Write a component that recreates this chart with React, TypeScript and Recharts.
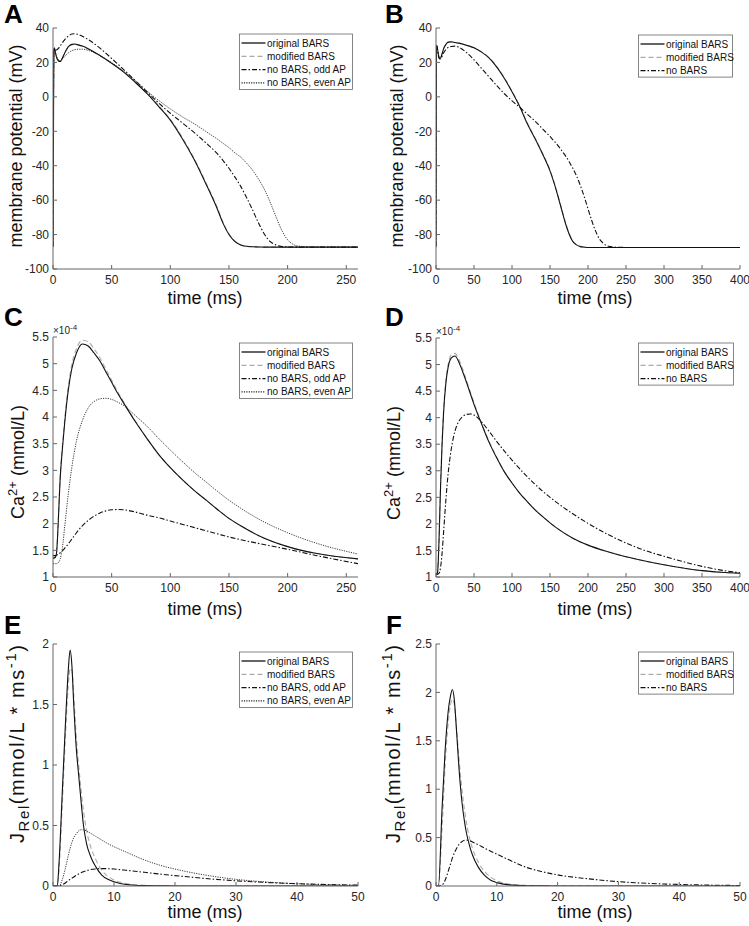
import { LineChart, Line, XAxis, YAxis } from 'recharts';

// ---- panel A: membrane potential, 260 ms window (mV) ----
const tA = [0, 0.7, 1.2, 2, 3, 4, 5, 6, 8, 10, 13, 16, 18, 20, 25, 30, 40, 50, 60, 70, 80, 90, 100, 110, 120, 130, 140, 145, 150, 155, 160, 165, 170, 175, 180, 185, 190, 195, 200, 205, 210, 220, 240, 260];
const aOriginal = [-87, 26, 28.5, 26, 23, 21.5, 20.7, 20.5, 22.5, 25.5, 29, 30.5, 30.7, 30.5, 29.5, 28, 24, 19.5, 14.5, 8.5, 2, -5.5, -13.5, -24, -36, -50, -65, -73.5, -80, -84, -86, -86.8, -87.1, -87.2, -87.3, -87.3, -87.3, -87.3, -87.3, -87.3, -87.3, -87.3, -87.3, -87.3];
const aModified = [-87, 26, 28.3, 25.8, 23, 21.6, 20.9, 20.8, 22.6, 25.4, 28.8, 30.2, 30.4, 30.2, 29.3, 27.8, 23.9, 19.5, 14.6, 8.7, 2.3, -5.1, -13, -23.4, -35.4, -49.3, -64.3, -73, -79.6, -83.8, -85.9, -86.8, -87.1, -87.2, -87.3, -87.3, -87.3, -87.3, -87.3, -87.3, -87.3, -87.3, -87.3, -87.3];
const aOddAP = [-87, 26, 28, 27.5, 27.3, 27.8, 28.5, 29.5, 31.5, 33.3, 35.3, 36.5, 36.7, 36.5, 35.2, 33.3, 28.3, 22.3, 16, 9.5, 3, -3.5, -9.5, -15, -20.5, -26.5, -33, -37, -41.5, -46.5, -52, -58.5, -65.5, -73, -79.5, -84, -86, -86.9, -87.2, -87.3, -87.3, -87.3, -87.3, -87.3];
const aEvenAP = [-87, 26, 28, 26, 23.5, 22, 21.2, 21, 22, 23.5, 25.5, 26.8, 27.3, 27.6, 27.7, 27, 24, 19.8, 15, 9.5, 3.5, -2, -7, -11.5, -15.5, -20, -24.5, -27, -29.5, -32.5, -35, -38.5, -42.5, -47.5, -53.5, -61, -69.5, -77.5, -83, -85.8, -86.8, -87.2, -87.3, -87.3];

// ---- panel B: membrane potential, 400 ms window (mV) ----
const tB = [0, 0.5, 1, 2, 3, 4, 5, 6, 8, 10, 13, 16, 20, 25, 30, 40, 50, 60, 70, 80, 90, 100, 110, 120, 130, 140, 150, 155, 160, 165, 170, 175, 180, 185, 190, 195, 200, 205, 210, 215, 220, 225, 230, 240, 260, 300, 350, 400];
const bOriginal = [-87, 25, 30, 28, 25, 23, 22.3, 22.5, 25, 28, 30.5, 31.8, 32, 31.6, 31.2, 30, 28.5, 26, 22.5, 17.3, 10.7, 3, -5.5, -15.5, -24, -33, -43, -49.5, -57, -65, -73, -79.5, -84, -86, -87, -87.3, -87.5, -87.5, -87.5, -87.5, -87.5, -87.5, -87.5, -87.5, -87.5, -87.5, -87.5, -87.5];
const bModified = [-87, 25, 29.8, 27.8, 25, 23.1, 22.5, 22.7, 25.1, 27.9, 30.3, 31.6, 31.8, 31.5, 31.1, 29.9, 28.5, 26.1, 22.7, 17.6, 11.1, 3.4, -5, -15, -23.5, -32.5, -42.5, -49, -56.5, -64.5, -72.5, -79.2, -83.8, -85.9, -87, -87.3, -87.5, -87.5, -87.5, -87.5, -87.5, -87.5, -87.5, -87.5, -87.5, -87.5, -87.5, -87.5];
const bNoBars = [-87, 25, 29.5, 27, 24, 22.5, 22, 22, 23.5, 25.5, 27.5, 28.7, 29.3, 29.5, 28.8, 25.8, 21.5, 16.5, 11.5, 6.5, 1.8, -2.3, -6, -10, -14, -18.5, -23, -25.5, -28, -31, -34, -37.5, -41.5, -46, -51.5, -58, -65, -72, -78, -82.5, -85, -86.5, -87, -87.4, -87.5, -87.5, -87.5, -87.5];

// ---- panel C: Ca2+, 260 ms window (x 1e-4 mmol/L) ----
const tC = [0, 2, 3, 4, 5, 6, 8, 10, 13, 16, 20, 25, 30, 35, 40, 45, 50, 55, 60, 70, 80, 90, 100, 110, 120, 130, 140, 150, 160, 175, 200, 225, 260];
const cOriginal = [1.35, 1.37, 1.45, 1.8, 2.3, 2.8, 3.4, 3.9, 4.5, 4.9, 5.2, 5.37, 5.33, 5.2, 5.05, 4.85, 4.65, 4.45, 4.27, 3.92, 3.6, 3.3, 3.05, 2.83, 2.63, 2.45, 2.27, 2.1, 1.96, 1.78, 1.57, 1.44, 1.34];
const cModified = [1.35, 1.37, 1.45, 1.8, 2.3, 2.82, 3.45, 3.95, 4.56, 4.98, 5.28, 5.44, 5.41, 5.28, 5.11, 4.9, 4.69, 4.48, 4.29, 3.93, 3.6, 3.3, 3.05, 2.83, 2.63, 2.45, 2.27, 2.1, 1.96, 1.78, 1.57, 1.44, 1.34];
const cOddAP = [1.4, 1.4, 1.41, 1.42, 1.43, 1.45, 1.49, 1.54, 1.62, 1.71, 1.83, 1.96, 2.06, 2.14, 2.2, 2.24, 2.26, 2.265, 2.26, 2.22, 2.16, 2.11, 2.05, 1.99, 1.93, 1.87, 1.81, 1.75, 1.7, 1.63, 1.52, 1.4, 1.25];
const cEvenAP = [1.25, 1.25, 1.25, 1.26, 1.28, 1.33, 1.55, 1.95, 2.55, 3.05, 3.55, 3.93, 4.17, 4.29, 4.34, 4.35, 4.33, 4.28, 4.22, 4.03, 3.83, 3.6, 3.38, 3.17, 2.97, 2.79, 2.61, 2.44, 2.29, 2.09, 1.83, 1.63, 1.43];

// ---- panel D: Ca2+, 400 ms window (x 1e-4 mmol/L) ----
const tD = [0, 2, 3, 4, 5, 6, 8, 10, 13, 16, 20, 25, 30, 35, 40, 45, 50, 60, 70, 80, 90, 100, 110, 120, 130, 140, 150, 160, 180, 200, 225, 250, 275, 300, 325, 350, 375, 400];
const dOriginal = [1.05, 1.08, 1.3, 1.7, 2.2, 2.7, 3.5, 4.1, 4.65, 4.95, 5.12, 5.16, 5.05, 4.87, 4.67, 4.46, 4.25, 3.88, 3.53, 3.24, 2.98, 2.77, 2.58, 2.42, 2.27, 2.14, 2.02, 1.91, 1.73, 1.6, 1.48, 1.38, 1.3, 1.23, 1.17, 1.12, 1.09, 1.07];
const dModified = [1.05, 1.08, 1.3, 1.7, 2.2, 2.72, 3.54, 4.15, 4.7, 5.0, 5.18, 5.21, 5.1, 4.92, 4.71, 4.49, 4.28, 3.9, 3.55, 3.25, 2.98, 2.77, 2.58, 2.42, 2.27, 2.14, 2.02, 1.91, 1.73, 1.6, 1.48, 1.38, 1.3, 1.23, 1.17, 1.12, 1.09, 1.07];
const dNoBars = [1.05, 1.05, 1.06, 1.07, 1.1, 1.18, 1.45, 1.85, 2.45, 2.95, 3.4, 3.75, 3.93, 4.02, 4.06, 4.07, 4.05, 3.92, 3.74, 3.55, 3.37, 3.2, 3.04, 2.89, 2.75, 2.62, 2.5, 2.39, 2.19, 2.01, 1.81, 1.64, 1.5, 1.39, 1.29, 1.2, 1.13, 1.08];

// ---- panel E: J_Rel, first 50 ms ----
const tE = [0, 0.7, 1, 1.5, 2, 2.5, 2.8, 3.1, 3.4, 3.8, 4.2, 4.6, 5, 5.5, 6.2, 7, 8, 9, 10, 12, 15, 18, 20, 25, 30, 35, 40, 45, 50];
const eOriginal = [0, 0, 0.2, 0.75, 1.3, 1.78, 1.95, 1.82, 1.5, 1.15, 0.92, 0.7, 0.5, 0.35, 0.24, 0.16, 0.09, 0.055, 0.035, 0.012, 0.003, 0.001, 0, 0, 0, 0, 0, 0, 0];
const eModified = [0, 0, 0.15, 0.65, 1.2, 1.65, 1.8, 1.78, 1.58, 1.25, 1.0, 0.8, 0.62, 0.46, 0.32, 0.22, 0.13, 0.08, 0.05, 0.02, 0.006, 0.002, 0.001, 0, 0, 0, 0, 0, 0];
const eOddAP = [0, 0, 0.002, 0.01, 0.025, 0.045, 0.055, 0.065, 0.075, 0.088, 0.1, 0.11, 0.118, 0.127, 0.136, 0.141, 0.144, 0.143, 0.14, 0.13, 0.113, 0.096, 0.086, 0.062, 0.043, 0.029, 0.019, 0.012, 0.007];
const eEvenAP = [0, 0, 0, 0.05, 0.14, 0.25, 0.31, 0.36, 0.4, 0.43, 0.455, 0.465, 0.465, 0.455, 0.435, 0.41, 0.38, 0.35, 0.325, 0.28, 0.215, 0.165, 0.14, 0.09, 0.055, 0.033, 0.019, 0.01, 0.005];

// ---- panel F: J_Rel, first 50 ms ----
const tF = [0, 0.4, 1, 1.5, 2, 2.4, 2.7, 3, 3.4, 3.8, 4.3, 4.7, 5, 5.5, 6, 7, 8, 9, 10, 12, 15, 18, 20, 25, 30, 35, 40, 45, 50];
const fOriginal = [0, 0, 0.8, 1.4, 1.8, 1.97, 2.03, 1.93, 1.58, 1.2, 0.85, 0.66, 0.55, 0.42, 0.32, 0.19, 0.11, 0.06, 0.035, 0.012, 0.003, 0.001, 0, 0, 0, 0, 0, 0, 0];
const fModified = [0, 0, 0.6, 1.25, 1.68, 1.88, 1.93, 1.88, 1.62, 1.3, 0.98, 0.78, 0.66, 0.5, 0.39, 0.24, 0.15, 0.09, 0.055, 0.02, 0.006, 0.002, 0.001, 0, 0, 0, 0, 0, 0];
const fNoBars = [0, 0, 0.01, 0.06, 0.15, 0.23, 0.29, 0.34, 0.39, 0.43, 0.46, 0.472, 0.474, 0.468, 0.455, 0.425, 0.39, 0.36, 0.33, 0.27, 0.19, 0.14, 0.115, 0.075, 0.045, 0.027, 0.016, 0.009, 0.005];

// ticks
const ticksT260 = [0, 50, 100, 150, 200, 250];
const ticksT400 = [0, 50, 100, 150, 200, 250, 300, 350, 400];
const ticksT50 = [0, 10, 20, 30, 40, 50];
const ticksMV = [-100, -80, -60, -40, -20, 0, 20, 40];
const ticksCa = [1, 1.5, 2, 2.5, 3, 3.5, 4, 4.5, 5, 5.5];
const ticksJE = [0, 0.5, 1, 1.5, 2];
const ticksJF = [0, 0.5, 1, 1.5, 2, 2.5];

const FONT = 'Liberation Sans, Arial, Helvetica, sans-serif';

type LineStyle = { stroke: string; width: number; dash?: string };
const ORIG: LineStyle = { stroke: '#111', width: 1.1 };
const MOD: LineStyle = { stroke: '#aaa', width: 1.1, dash: '5 3' };
const DASHDOT: LineStyle = { stroke: '#111', width: 1.1, dash: '5 2 1.5 2' };
const DOTTED: LineStyle = { stroke: '#222', width: 0.9, dash: '1.2 1.2' };

const zip = (t: number[], v: number[]) => t.map((x, i) => ({ t: x, v: v[i] }));

type Series = { name: string; data: { t: number; v: number }[]; style: LineStyle };

const tickStyle = { fill: '#262626', fontSize: 12, fontFamily: FONT };

function Panel({ box, xMax, xTicks, yDomain, yTicks, series }: {
  box: number[]; xMax: number; xTicks: number[]; yDomain: number[]; yTicks: number[]; series: Series[];
}) {
  const [x0, y0, x1, y1] = box;
  const W = x1 - x0 + 60;
  const H = y1 - y0 + 40;
  return (
    <div style={{ position: 'absolute', left: x0 - 50, top: y0 - 10 }}>
      <LineChart width={W} height={H} margin={{ top: 10, right: 10, bottom: 0, left: 0 }}>
        <XAxis xAxisId="b" type="number" dataKey="t" domain={[0, xMax]} ticks={xTicks} allowDataOverflow
               interval={0} height={30} tickSize={-4} tickMargin={10} stroke="#666" tick={tickStyle} />
        <XAxis xAxisId="t" orientation="top" type="number" domain={[0, xMax]} ticks={xTicks} allowDataOverflow
               interval={0} height={0} tickSize={-4} stroke="#666" tick={false} />
        <YAxis yAxisId="l" type="number" domain={yDomain} ticks={yTicks} allowDataOverflow
               interval={0} width={50} tickSize={-4} tickMargin={8} stroke="#666" tick={tickStyle} />
        <YAxis yAxisId="r" orientation="right" type="number" domain={yDomain} ticks={yTicks} allowDataOverflow
               interval={0} width={0} tickSize={-4} stroke="#666" tick={false} />
        {series.map(s => (
          <Line key={s.name} xAxisId="b" yAxisId="l" data={s.data} dataKey="v" type="monotone"
                stroke={s.style.stroke} strokeWidth={s.style.width} strokeDasharray={s.style.dash}
                dot={false} activeDot={false} isAnimationActive={false} />
        ))}
      </LineChart>
    </div>
  );
}

function KeyBox({ x, y, w, rows }: { x: number; y: number; w: number; rows: [string, LineStyle][] }) {
  const h = 9 + (rows.length - 1) * 13.3 + 6.5;
  return (
    <g>
      <rect x={x} y={y} width={w} height={h} fill="#fff" stroke="#666" strokeWidth={0.8} />
      {rows.map(([label, st], i) => {
        const cy = y + 9 + i * 13.3;
        return (
          <g key={label}>
            <line x1={x + 2} x2={x + 26} y1={cy} y2={cy} stroke={st.stroke} strokeWidth={st.width + 0.2}
                  strokeDasharray={st.dash} />
            <text x={x + 27.5} y={cy + 3.5} fontSize={10} fill="#111">{label}</text>
          </g>
        );
      })}
    </g>
  );
}

const rows4: [string, LineStyle][] = [
  ['original BARS', ORIG], ['modified BARS', MOD], ['no BARS, odd AP', DASHDOT], ['no BARS, even AP', DOTTED],
];
const rows3: [string, LineStyle][] = [
  ['original BARS', ORIG], ['modified BARS', MOD], ['no BARS', DASHDOT],
];

export default function App() {
  const seriesA: Series[] = [
    { name: 'modified', data: zip(tA, aModified), style: MOD },
    { name: 'original', data: zip(tA, aOriginal), style: ORIG },
    { name: 'odd', data: zip(tA, aOddAP), style: DASHDOT },
    { name: 'even', data: zip(tA, aEvenAP), style: DOTTED },
  ];
  const seriesB: Series[] = [
    { name: 'modified', data: zip(tB, bModified), style: MOD },
    { name: 'original', data: zip(tB, bOriginal), style: ORIG },
    { name: 'nobars', data: zip(tB, bNoBars), style: DASHDOT },
  ];
  const seriesC: Series[] = [
    { name: 'modified', data: zip(tC, cModified), style: MOD },
    { name: 'original', data: zip(tC, cOriginal), style: ORIG },
    { name: 'odd', data: zip(tC, cOddAP), style: DASHDOT },
    { name: 'even', data: zip(tC, cEvenAP), style: DOTTED },
  ];
  const seriesD: Series[] = [
    { name: 'modified', data: zip(tD, dModified), style: MOD },
    { name: 'original', data: zip(tD, dOriginal), style: ORIG },
    { name: 'nobars', data: zip(tD, dNoBars), style: DASHDOT },
  ];
  const seriesE: Series[] = [
    { name: 'modified', data: zip(tE, eModified), style: MOD },
    { name: 'original', data: zip(tE, eOriginal), style: ORIG },
    { name: 'odd', data: zip(tE, eOddAP), style: DASHDOT },
    { name: 'even', data: zip(tE, eEvenAP), style: DOTTED },
  ];
  const seriesF: Series[] = [
    { name: 'modified', data: zip(tF, fModified), style: MOD },
    { name: 'original', data: zip(tF, fOriginal), style: ORIG },
    { name: 'nobars', data: zip(tF, fNoBars), style: DASHDOT },
  ];

  const letter = { fontSize: 26, fontWeight: 700, fill: '#000' } as const;
  const axisLbl = { fontSize: 18, fill: '#111', textAnchor: 'middle' } as const;

  return (
    <div style={{ position: 'absolute', left: 0, top: 0, width: 749, height: 926, background: '#fff', fontFamily: FONT }}>
      <Panel box={[52.5, 28, 357.5, 269]} xMax={260} xTicks={ticksT260} yDomain={[-100, 40]} yTicks={ticksMV} series={seriesA} />
      <Panel box={[436, 28, 740, 269]} xMax={400} xTicks={ticksT400} yDomain={[-100, 40]} yTicks={ticksMV} series={seriesB} />
      <Panel box={[52.5, 337, 357.5, 577]} xMax={260} xTicks={ticksT260} yDomain={[1, 5.5]} yTicks={ticksCa} series={seriesC} />
      <Panel box={[436, 338, 740, 577]} xMax={400} xTicks={ticksT400} yDomain={[1, 5.5]} yTicks={ticksCa} series={seriesD} />
      <Panel box={[52.5, 644, 357.5, 886]} xMax={50} xTicks={ticksT50} yDomain={[0, 2]} yTicks={ticksJE} series={seriesE} />
      <Panel box={[436, 644, 740, 886]} xMax={50} xTicks={ticksT50} yDomain={[0, 2.5]} yTicks={ticksJF} series={seriesF} />

      <svg width={749} height={926} style={{ position: 'absolute', left: 0, top: 0, pointerEvents: 'none' }}
           fontFamily={FONT}>
        {/* panel letters */}
        <text x={4} y={23} {...letter}>A</text>
        <text x={385} y={23} {...letter}>B</text>
        <text x={4} y={326} {...letter}>C</text>
        <text x={385} y={326} {...letter}>D</text>
        <text x={4} y={634} {...letter}>E</text>
        <text x={386} y={634} {...letter}>F</text>

        {/* x labels */}
        <text x={205} y={304} {...axisLbl}>time (ms)</text>
        <text x={595} y={304} {...axisLbl}>time (ms)</text>
        <text x={205} y={614.5} {...axisLbl}>time (ms)</text>
        <text x={595} y={614.5} {...axisLbl}>time (ms)</text>
        <text x={205} y={918} {...axisLbl}>time (ms)</text>
        <text x={595} y={918} {...axisLbl}>time (ms)</text>

        {/* y labels */}
        <text x={22} y={146} transform="rotate(-90 22 146)" {...axisLbl}>membrane potential (mV)</text>
        <text x={403} y={146} transform="rotate(-90 403 146)" {...axisLbl}>membrane potential (mV)</text>
        <text x={24} y={462} transform="rotate(-90 24 462)" {...axisLbl}>
          Ca<tspan dy={-7} fontSize={13}>2+</tspan><tspan dy={7}> (mmol/L)</tspan>
        </text>
        <text x={400} y={463} transform="rotate(-90 400 463)" {...axisLbl}>
          Ca<tspan dy={-7} fontSize={13}>2+</tspan><tspan dy={7}> (mmol/L)</tspan>
        </text>
        <text x={24} y={744} transform="rotate(-90 24 744)" {...axisLbl} fontSize={20} textLength={198} lengthAdjust="spacing">
          J<tspan dy={5} fontSize={15}>Rel</tspan><tspan dy={-5}>(mmol/L * ms</tspan><tspan dy={-8} fontSize={15}>-1</tspan><tspan dy={8}>)</tspan>
        </text>
        <text x={400} y={744} transform="rotate(-90 400 744)" {...axisLbl} fontSize={20} textLength={198} lengthAdjust="spacing">
          J<tspan dy={5} fontSize={15}>Rel</tspan><tspan dy={-5}>(mmol/L * ms</tspan><tspan dy={-8} fontSize={15}>-1</tspan><tspan dy={8}>)</tspan>
        </text>

        {/* exponent markers */}
        <text x={53} y={334} fontSize={10} fill="#262626">×10<tspan dy={-4} fontSize={8}>-4</tspan></text>
        <text x={436} y={335} fontSize={10} fill="#262626">×10<tspan dy={-4} fontSize={8}>-4</tspan></text>

        {/* legends */}
        <KeyBox x={239.5} y={34} w={113} rows={rows4} />
        <KeyBox x={638.5} y={35} w={94} rows={rows3} />
        <KeyBox x={239.5} y={343} w={113} rows={rows4} />
        <KeyBox x={638.5} y={343} w={95} rows={rows3} />
        <KeyBox x={239.5} y={652} w={113} rows={rows4} />
        <KeyBox x={638.5} y={652} w={95} rows={rows3} />
      </svg>
    </div>
  );
}
